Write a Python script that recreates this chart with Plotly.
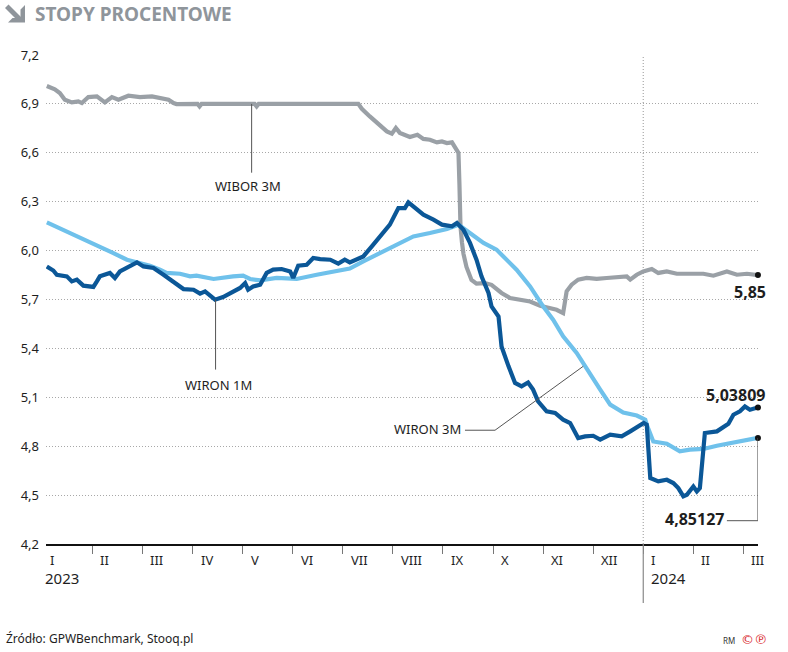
import plotly.graph_objects as go

# ---------------- data ----------------
y_ticks = [4.2, 4.5, 4.8, 5.1, 5.4, 5.7, 6.0, 6.3, 6.6, 6.9, 7.2]
y_tick_labels = ["4,2", "4,5", "4,8", "5,1", "5,4", "5,7", "6,0", "6,3", "6,6", "6,9", "7,2"]
month_labels = ["I", "II", "III", "IV", "V", "VI", "VII", "VIII", "IX", "X", "XI", "XII", "I", "II", "III"]
month_starts = list(range(15))          # months counted from January 2023
year_labels = ["2023", "2024"]
year_starts = [0, 12]

wibor_x = [0.09, 0.25, 0.35, 0.45, 0.59, 0.72, 0.79, 0.92, 1.09, 1.25, 1.39, 1.52, 1.72, 1.95, 2.19,
           2.35, 2.52, 2.62, 2.68, 3.10, 3.14, 3.18, 4.24, 4.28, 4.32, 6.31, 6.38, 6.54, 6.74, 6.88,
           6.98, 7.06, 7.14, 7.24, 7.34, 7.49, 7.61, 7.74, 7.88, 7.98, 8.08, 8.18, 8.24, 8.31, 8.33,
           8.35, 8.38, 8.41, 8.47, 8.57, 8.67, 8.84, 8.97, 9.07, 9.17, 9.34, 9.51, 9.74, 9.94, 10.10,
           10.27, 10.40, 10.44, 10.47, 10.57, 10.70, 10.87, 11.07, 11.27, 11.47, 11.67, 11.74, 11.87,
           12.00, 12.17, 12.30, 12.47, 12.67, 12.93, 13.20, 13.40, 13.67, 13.87, 14.07, 14.29]
wibor_y = [7.01, 6.99, 6.967, 6.926, 6.909, 6.915, 6.905, 6.942, 6.946, 6.909, 6.942, 6.926, 6.95, 6.942,
           6.946, 6.936, 6.926, 6.905, 6.899, 6.90, 6.885, 6.90, 6.90, 6.885, 6.90, 6.90, 6.87, 6.823,
           6.772, 6.731, 6.717, 6.752, 6.722, 6.711, 6.697, 6.711, 6.685, 6.68, 6.664, 6.67, 6.66,
           6.664, 6.629, 6.60, 6.40, 6.15, 6.05, 5.98, 5.90, 5.82, 5.797, 5.80, 5.79, 5.764, 5.74,
           5.709, 5.699, 5.688, 5.662, 5.648, 5.637, 5.617, 5.70, 5.75, 5.791, 5.822, 5.832, 5.826,
           5.832, 5.838, 5.842, 5.822, 5.852, 5.872, 5.887, 5.863, 5.872, 5.858, 5.858, 5.858, 5.846,
           5.872, 5.852, 5.858, 5.85]

wiron3_x = [0.09, 0.49, 0.89, 1.15, 1.42, 1.69, 1.95, 2.15, 2.35, 2.48, 2.75, 2.95, 3.08, 3.42, 3.81,
            4.01, 4.15, 4.35, 4.68, 5.08, 5.48, 5.88, 6.14, 6.41, 6.74, 7.14, 7.41, 7.74, 8.08, 8.31,
            8.54, 8.81, 9.07, 9.21, 9.47, 9.74, 10.00, 10.20, 10.40, 10.67, 10.94, 11.14, 11.34, 11.60,
            11.87, 12.04, 12.07, 12.20, 12.47, 12.63, 12.73, 12.93, 13.20, 13.47, 13.80, 14.07, 14.29]
wiron3_y = [6.173, 6.118, 6.056, 6.026, 5.985, 5.944, 5.924, 5.907, 5.883, 5.863, 5.858, 5.842, 5.846,
            5.826, 5.842, 5.846, 5.826, 5.817, 5.832, 5.826, 5.852, 5.875, 5.89, 5.934, 5.985, 6.047,
            6.087, 6.108, 6.132, 6.159, 6.108, 6.047, 6.006, 5.964, 5.883, 5.78, 5.658, 5.576, 5.474,
            5.372, 5.249, 5.147, 5.055, 5.007, 4.988, 4.963, 4.932, 4.829, 4.815, 4.789, 4.768, 4.779,
            4.783, 4.803, 4.823, 4.84, 4.851]

wiron1_x = [0.09, 0.22, 0.29, 0.49, 0.59, 0.69, 0.82, 1.02, 1.09, 1.15, 1.35, 1.45, 1.55, 1.89, 2.02,
            2.22, 2.42, 2.62, 2.82, 3.02, 3.15, 3.25, 3.35, 3.45, 3.61, 3.81, 3.95, 4.05, 4.11, 4.21,
            4.35, 4.48, 4.61, 4.78, 4.95, 5.01, 5.11, 5.28, 5.41, 5.55, 5.75, 5.91, 6.04, 6.14, 6.41,
            6.58, 6.81, 6.94, 7.11, 7.24, 7.31, 7.48, 7.61, 7.81, 7.98, 8.18, 8.28, 8.41, 8.54, 8.67,
            8.77, 8.91, 8.97, 9.11, 9.17, 9.31, 9.44, 9.57, 9.70, 9.80, 9.90, 10.07, 10.24, 10.40, 10.54,
            10.70, 10.84, 11.00, 11.14, 11.34, 11.57, 11.74, 11.91, 12.01, 12.07, 12.14, 12.30, 12.47,
            12.60, 12.70, 12.80, 12.87, 13.00, 13.07, 13.13, 13.23, 13.47, 13.60, 13.70, 13.80, 13.93,
            14.03, 14.13, 14.29]
wiron1_y = [5.903, 5.878, 5.852, 5.842, 5.811, 5.822, 5.785, 5.777, 5.811, 5.842, 5.863, 5.832, 5.872,
            5.928, 5.903, 5.893, 5.852, 5.811, 5.764, 5.76, 5.736, 5.75, 5.723, 5.699, 5.715, 5.75,
            5.771, 5.801, 5.76, 5.78, 5.791, 5.863, 5.883, 5.887, 5.872, 5.832, 5.907, 5.913, 5.955,
            5.948, 5.944, 5.92, 5.944, 5.928, 5.964, 6.026, 6.108, 6.159, 6.261, 6.261, 6.296, 6.251,
            6.22, 6.19, 6.159, 6.149, 6.169, 6.128, 6.047, 5.944, 5.842, 5.74, 5.658, 5.596, 5.412,
            5.29, 5.188, 5.167, 5.191, 5.147, 5.075, 5.014, 5.004, 4.963, 4.942, 4.85, 4.86, 4.864,
            4.84, 4.871, 4.86, 4.891, 4.921, 4.942, 4.932, 4.605, 4.584, 4.594, 4.574, 4.543, 4.492,
            4.502, 4.553, 4.523, 4.543, 4.881, 4.891, 4.921, 4.938, 4.993, 5.014, 5.044, 5.024, 5.038]

end_labels = ["5,85", "5,03809", "4,85127"]

# ---------------- styling ----------------
W, H = 788, 652
ML, MR, MT, MB = 46, 30, 55, 108
PW, PH = W - ML - MR, H - MT - MB
X0, X1 = 0.074, 14.291
Y0, Y1 = 4.2, 7.2
FONT = "Noto Sans"
GRAY = "#9aa0a6"
LIGHT = "#6fc1eb"
DARK = "#0b5797"
TXT = "#1e1e1e"
DOTS = "1px,2px"


def pxx(px):
    return (px - ML) / PW


def pxy(py):
    return (H - MB - py) / PH


def dx(m):      # data x -> paper x
    return (m - X0) / (X1 - X0)


def dy(v):      # data y -> paper y
    return (v - Y0) / (Y1 - Y0)


fig = go.Figure()
fig.add_trace(go.Scatter(x=wibor_x, y=wibor_y, mode="lines",
                         line=dict(color=GRAY, width=4.2), hoverinfo="skip"))
fig.add_trace(go.Scatter(x=wiron3_x, y=wiron3_y, mode="lines",
                         line=dict(color=LIGHT, width=4.2), hoverinfo="skip"))
fig.add_trace(go.Scatter(x=wiron1_x, y=wiron1_y, mode="lines",
                         line=dict(color=DARK, width=4.2), hoverinfo="skip"))
fig.add_trace(go.Scatter(x=[wibor_x[-1], wiron1_x[-1], wiron3_x[-1]],
                         y=[wibor_y[-1], wiron1_y[-1], wiron3_y[-1]],
                         mode="markers", marker=dict(color="#111", size=6),
                         hoverinfo="skip", cliponaxis=False))

shapes = []
# vertical separator at January 2024
shapes.append(dict(type="line", xref="x", yref="paper", x0=year_starts[1], x1=year_starts[1],
                   y0=0, y1=1, line=dict(color="#a8a8a8", width=1.2, dash=DOTS), layer="below"))
shapes.append(dict(type="line", xref="x", yref="paper", x0=year_starts[1], x1=year_starts[1],
                   y0=pxy(603), y1=0, line=dict(color="#8a8a8a", width=1.2)))

# leader lines
LC = dict(color="#555", width=1)
shapes.append(dict(type="line", xref="x", yref="y", x0=4.18, x1=4.18, y0=6.9, y1=6.478, line=LC))
shapes.append(dict(type="line", xref="x", yref="y", x0=3.46, x1=3.46, y0=5.699, y1=5.27, line=LC))
shapes.append(dict(type="path", xref="x", yref="y",
                   path="M 8.44 4.898 L 9.04 4.898 L 10.80 5.29", line=LC))
shapes.append(dict(type="path", xref="x", yref="y",
                   path="M 14.29 4.851 L 14.29 4.343 L 13.67 4.343", line=LC))


# title arrow icon (pixel polygons converted to paper)
def poly(points):
    p = "M " + " L ".join(f"{pxx(a):.5f} {pxy(b):.5f}" for a, b in points) + " Z"
    return dict(type="path", xref="paper", yref="paper", path=p,
                fillcolor="#8f959b", line=dict(width=0))


shapes.append(poly([(5, 8), (8.5, 4.5), (21.5, 17.5), (18, 21)]))
shapes.append(poly([(25, 5), (25, 22.5), (8, 22.5), (12.5, 18), (20.5, 18), (20.5, 9.5)]))

annotations = []
# month labels
for lab, m in zip(month_labels, month_starts):
    annotations.append(dict(x=dx(m + 0.12), y=pxy(560), xref="paper", yref="paper", text=lab,
                            showarrow=False, xanchor="left", yanchor="middle",
                            font=dict(family=FONT, size=13, color=TXT)))
for lab, m in zip(year_labels, year_starts):
    annotations.append(dict(x=dx(m + 0.02 if m == 0 else m + 0.11), y=pxy(578), xref="paper",
                            yref="paper", text=lab, showarrow=False, xanchor="left",
                            yanchor="middle", font=dict(family=FONT, size=15, color=TXT)))

# series labels
annotations.append(dict(x=4.11, y=6.398, xref="x", yref="y", text="WIBOR 3M", showarrow=False,
                        xanchor="center", yanchor="middle",
                        font=dict(family=FONT, size=13, color=TXT)))
annotations.append(dict(x=3.52, y=5.175, xref="x", yref="y", text="WIRON 1M", showarrow=False,
                        xanchor="center", yanchor="middle",
                        font=dict(family=FONT, size=13, color=TXT)))
annotations.append(dict(x=8.40, y=4.905, xref="x", yref="y", text="WIRON 3M", showarrow=False,
                        xanchor="right", yanchor="middle",
                        font=dict(family=FONT, size=13, color=TXT)))

# end value labels (paper coords so they may sit past the axis end)
annotations.append(dict(x=dx(14.50), y=dy(5.744), xref="paper", yref="paper",
                        text="<b>" + end_labels[0] + "</b>", showarrow=False,
                        xanchor="right", yanchor="middle",
                        font=dict(family=FONT, size=16, color=TXT)))
annotations.append(dict(x=dx(14.48), y=dy(5.112), xref="paper", yref="paper",
                        text="<b>" + end_labels[1] + "</b>", showarrow=False,
                        xanchor="right", yanchor="middle",
                        font=dict(family=FONT, size=16, color=TXT)))
annotations.append(dict(x=dx(13.65), y=dy(4.352), xref="paper", yref="paper",
                        text="<b>" + end_labels[2] + "</b>", showarrow=False,
                        xanchor="right", yanchor="middle",
                        font=dict(family=FONT, size=16, color=TXT)))

# title, source, copyright
annotations.append(dict(x=pxx(33), y=pxy(14), xref="paper", yref="paper",
                        text="<b>STOPY PROCENTOWE</b>", showarrow=False, xanchor="left",
                        yanchor="middle", font=dict(family=FONT, size=19, color="#8f959b")))
annotations.append(dict(x=pxx(4), y=pxy(638), xref="paper", yref="paper",
                        text="Źródło: GPWBenchmark, Stooq.pl", showarrow=False, xanchor="left",
                        yanchor="middle", font=dict(family=FONT, size=12, color=TXT)))
annotations.append(dict(x=pxx(737), y=pxy(640), xref="paper", yref="paper",
                        text="RM", showarrow=False, xanchor="right",
                        yanchor="middle", font=dict(family=FONT, size=8, color="#333")))
annotations.append(dict(x=pxx(739), y=pxy(639), xref="paper", yref="paper",
                        text="©℗", showarrow=False, xanchor="left",
                        yanchor="middle", font=dict(family="DejaVu Sans", size=13, color="#d9262b")))

fig.update_layout(
    width=W, height=H,
    margin=dict(l=ML, r=MR, t=MT, b=MB),
    paper_bgcolor="white", plot_bgcolor="white",
    showlegend=False,
    shapes=shapes, annotations=annotations,
    xaxis=dict(range=[X0, X1], showgrid=False, zeroline=False,
               showline=True, linecolor="#111", linewidth=2,
               tickmode="array", tickvals=month_starts[1:], ticks="outside", ticklen=8,
               tickcolor="#777", tickwidth=1, showticklabels=False, fixedrange=True),
    yaxis=dict(range=[Y0, Y1], tickmode="array", tickvals=y_ticks, ticktext=y_tick_labels,
               showgrid=True, gridcolor="#a8a8a8", griddash=DOTS, gridwidth=1,
               zeroline=False, showline=False, ticks="", ticklabelstandoff=6,
               tickfont=dict(family=FONT, size=13, color=TXT), fixedrange=True),
)

fig.write_html("out.html")
